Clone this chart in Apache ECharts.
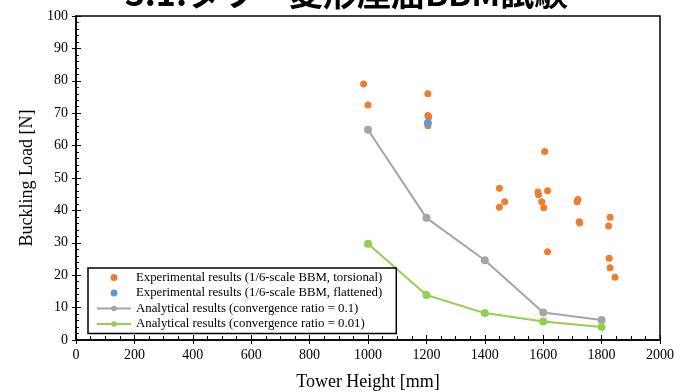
<!DOCTYPE html>
<html>
<head>
<meta charset="utf-8">
<script src="https://cdn.jsdelivr.net/npm/echarts@6/dist/echarts.min.js"></script>
<style>
  html, body { margin: 0; padding: 0; background: #fff; }
  #chart { width: 693px; height: 392px; }
</style>
</head>
<body>
<div id="chart"></div>
<script>
// 實驗值 (扭轉型)
const torsionalPoints = [
  [985, 79], [1000, 72.5], [1205, 76], [1205, 69.3], [1208, 68.8], [1205, 66.1],
  [1450, 46.8], [1468, 42.7], [1450, 41], [1582, 45.7], [1584, 44.8], [1615, 46.1],
  [1595, 42.7], [1602, 40.8], [1605, 58.2], [1615, 27.2], [1719, 43.4], [1716, 42.7],
  [1723, 36.5], [1725, 36.1], [1829, 37.9], [1824, 35.2], [1826, 25.2], [1829, 22.3],
  [1846, 19.4]
];
// 實驗值 (扁平型)
const flattenedPoints = [[1205, 67]];
// 解析值
const towerHeights = [1000, 1200, 1400, 1600, 1800];
const analyticalRatio01 = [64.9, 37.7, 24.6, 8.5, 6.2];
const analyticalRatio001 = [29.7, 13.9, 8.3, 5.7, 4.0];

const seriesNames = [
  "Experimental results (1/6-scale BBM, torsional)",
  "Experimental results (1/6-scale BBM, flattened)",
  "Analytical results (convergence ratio = 0.1)",
  "Analytical results (convergence ratio = 0.01)",
];

const serif = "Liberation Serif";
const black = "#000";

const chart = echarts.init(document.getElementById("chart"), null, { renderer: "canvas" });

const pair = (ys) => towerHeights.map((x, i) => [x, ys[i]]);

const option = {
  animation: false,
  backgroundColor: "#fff",
  graphic: [
    {
      type: "text",
      left: "center",
      top: -24,
      style: {
        text: "3.1.タワー変形座屈BBM試験",
        font: "bold 34px 'Noto Sans CJK JP'",
        fill: "#000",
      },
    },
  ],
  grid: {
    left: 76,
    right: 33,
    top: 16,
    bottom: 52,
    outerBoundsMode: "none",
    containLabel: false,
    show: true,
    borderColor: black,
    borderWidth: 1.5,
  },
  legend: {
    orient: "vertical",
    left: 88,
    top: 268,
    padding: [3, 14, 3, 8],
    itemGap: 2.5,
    itemWidth: 34,
    itemHeight: 7,
    backgroundColor: "#fff",
    borderColor: black,
    borderWidth: 1.5,
    borderRadius: 0,
    textStyle: { fontFamily: serif, fontSize: 12.8, color: black },
    data: seriesNames,
  },
  xAxis: [
    {
      type: "value",
      min: 0,
      max: 2000,
      interval: 200,
      name: "Tower Height [mm]",
      nameLocation: "middle",
      nameGap: 33,
      nameTextStyle: { fontFamily: serif, fontSize: 18, color: black },
      axisLine: { show: true, onZero: false, lineStyle: { color: black, width: 1.5 } },
      axisTick: { show: true, inside: false, length: 4, lineStyle: { color: black } },
      axisLabel: { fontFamily: serif, fontSize: 14, color: black, margin: 8, formatter: (v) => String(v) },
      splitLine: { show: false },
    },
    {
      // 內側刻度用的重疊軸
      type: "value",
      position: "bottom",
      min: 0,
      max: 2000,
      interval: 200,
      axisLine: { show: false },
      axisTick: { show: true, inside: true, length: 5, lineStyle: { color: black } },
      minorTick: { show: true, splitNumber: 4, length: 4, lineStyle: { color: black } },
      axisLabel: { show: false },
      splitLine: { show: false },
    },
  ],
  yAxis: [
    {
      type: "value",
      min: 0,
      max: 100,
      interval: 10,
      name: "Buckling Load [N]",
      nameLocation: "middle",
      nameGap: 31,
      nameTextStyle: { fontFamily: serif, fontSize: 18, color: black },
      axisLine: { show: true, onZero: false, lineStyle: { color: black, width: 1.5 } },
      axisTick: { show: true, inside: false, length: 4, lineStyle: { color: black } },
      axisLabel: { fontFamily: serif, fontSize: 14, color: black, margin: 8 },
      splitLine: { show: false },
    },
    {
      type: "value",
      position: "left",
      min: 0,
      max: 100,
      interval: 10,
      axisLine: { show: false },
      axisTick: { show: true, inside: true, length: 5, lineStyle: { color: black } },
      minorTick: { show: true, splitNumber: 5, length: 3, lineStyle: { color: black } },
      axisLabel: { show: false },
      splitLine: { show: false },
    },
  ],
  series: [
    {
      name: seriesNames[2],
      type: "line",
      data: pair(analyticalRatio01),
      symbol: "circle",
      symbolSize: 8,
      itemStyle: { color: "#A5A5A5" },
      lineStyle: { color: "#A5A5A5", width: 2 },
      z: 2,
    },
    {
      name: seriesNames[3],
      type: "line",
      data: pair(analyticalRatio001),
      symbol: "circle",
      symbolSize: 8,
      itemStyle: { color: "#92D050" },
      lineStyle: { color: "#92D050", width: 2 },
      z: 2,
    },
    {
      name: seriesNames[0],
      type: "scatter",
      data: torsionalPoints,
      symbol: "circle",
      symbolSize: 7,
      itemStyle: { color: "#ED7D31", opacity: 1 },
      z: 3,
    },
    {
      name: seriesNames[1],
      type: "scatter",
      data: flattenedPoints,
      symbol: "circle",
      symbolSize: 8,
      itemStyle: { color: "#5B9BD5", opacity: 1 },
      z: 4,
    },
  ],
};

chart.setOption(option);
</script>
</body>
</html>
